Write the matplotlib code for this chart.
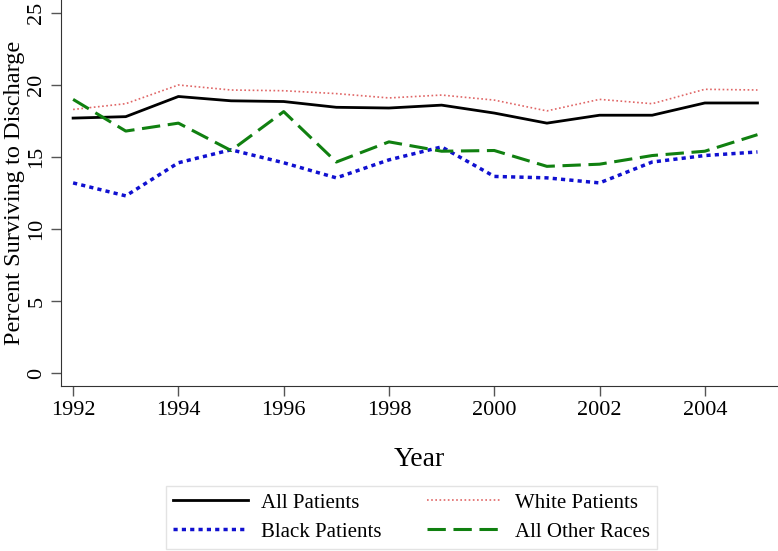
import matplotlib.pyplot as plt
import numpy as np

plt.rcParams['font.family'] = ['Liberation Serif', 'DejaVu Serif']

years = np.arange(1992, 2006)
all_patients = [17.7, 17.8, 19.2, 18.9, 18.85, 18.45, 18.4, 18.6, 18.05, 17.35, 17.9, 17.9, 18.75, 18.75]
white_patients = [18.3, 18.7, 20.0, 19.65, 19.6, 19.4, 19.1, 19.3, 18.95, 18.2, 19.0, 18.7, 19.7, 19.65]
black_patients = [13.2, 12.3, 14.6, 15.5, 14.6, 13.55, 14.8, 15.7, 13.65, 13.55, 13.2, 14.65, 15.1, 15.35]
other_races = [19.0, 16.8, 17.35, 15.45, 18.15, 14.65, 16.05, 15.4, 15.45, 14.35, 14.5, 15.1, 15.4, 16.55]

fig = plt.figure(figsize=(7.78, 5.51), dpi=100)
ax = fig.add_axes([0.0784, 0.2995, 0.9216, 0.7005])

ax.plot(years, all_patients, color='black', lw=2, label='All Patients')
ax.plot(years, white_patients, color='#e06666', lw=1.2, linestyle=(0, (1, 1.5)), label='White Patients')
ax.plot(years, black_patients, color='#1010d0', lw=2.5, linestyle=(0, (1.2, 1.2)), label='Black Patients')
ax.plot(years, other_races, color='#108010', lw=2.2, linestyle=(0, (6, 2.5)), label='All Other Races')

ax.set_xlim(1991.77, 2005.39)
ax.set_ylim(-0.9, 25.9)
ax.set_xticks(np.arange(1992, 2005, 2))
ax.set_yticks([0, 5, 10, 15, 20, 25])
for lbl in ax.get_yticklabels():
    lbl.set_rotation(90)
    lbl.set_va('center')
ax.tick_params(labelsize=16, length=7, width=1, color='#555555', direction='out')
ax.spines['top'].set_visible(False)
ax.spines['right'].set_visible(False)
ax.spines['left'].set_color('#333333')
ax.spines['bottom'].set_color('#333333')

ax.set_xlabel('Year', fontsize=20, labelpad=20)
ax.set_ylabel('Percent Surviving to Discharge', fontsize=17.5)
ax.yaxis.set_label_coords(-0.05, 0.5)

handles, labels = ax.get_legend_handles_labels()
order = [0, 2, 1, 3]
leg = fig.legend([handles[i] for i in order], [labels[i] for i in order],
                 loc='lower center', bbox_to_anchor=(0.529, 0.0), ncol=2,
                 fontsize=15, frameon=True, fancybox=False, handlelength=3.6,
                 handletextpad=0.6, columnspacing=2.2, borderpad=0.35,
                 labelspacing=0.45, borderaxespad=0.1)
leg.get_frame().set_edgecolor('#dddddd')
leg.get_frame().set_linewidth(1)

fig.savefig('out.png', dpi=100)
